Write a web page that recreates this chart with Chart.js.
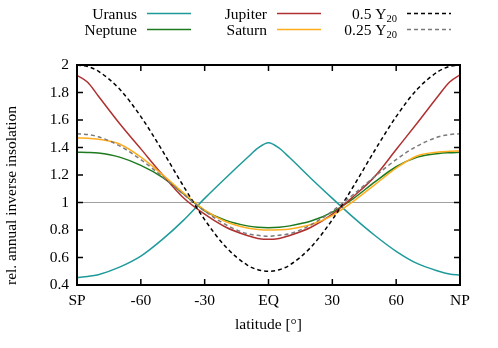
<!DOCTYPE html>
<html>
<head>
<meta charset="utf-8">
<script src="https://cdn.jsdelivr.net/npm/chart.js@4.4.0/dist/chart.umd.min.js"></script>
<style>
  html, body { margin: 0; padding: 0; background: #fff; }
  #wrap { width: 498px; height: 348px; }
</style>
</head>
<body>
<div id="wrap"><canvas id="insolation" width="498" height="348"></canvas></div>
<script>
//Latitudes in degrees, south pole to north pole
const latitudes = [-90, -85, -80, -70, -60, -50, -40, -30, -20, -10, -5, 0, 5, 10, 20, 30, 40, 50, 60, 70, 80, 85, 90];

//Relative annual inverse insolation
const uranus  = [0.455, 0.462, 0.475, 0.53, 0.61, 0.73, 0.87, 1.03, 1.18, 1.325, 1.395, 1.435, 1.395, 1.325, 1.175, 1.03, 0.89, 0.76, 0.645, 0.555, 0.5, 0.48, 0.472];
const neptune = [1.365, 1.364, 1.36, 1.33, 1.27, 1.185, 1.065, 0.94, 0.87, 0.83, 0.82, 0.817, 0.82, 0.83, 0.865, 0.93, 1.03, 1.15, 1.26, 1.33, 1.357, 1.362, 1.365];
const jupiter = [1.925, 1.875, 1.775, 1.575, 1.39, 1.205, 1.035, 0.915, 0.82, 0.76, 0.739, 0.732, 0.739, 0.76, 0.82, 0.915, 1.045, 1.19, 1.385, 1.58, 1.78, 1.875, 1.928];
const saturn  = [1.47, 1.468, 1.46, 1.425, 1.33, 1.205, 1.07, 0.945, 0.86, 0.815, 0.804, 0.8, 0.802, 0.808, 0.84, 0.905, 1.01, 1.13, 1.25, 1.34, 1.367, 1.372, 1.375];
const halfY20 = [2.0, 1.989, 1.955, 1.825, 1.625, 1.38, 1.12, 0.875, 0.676, 0.545, 0.511, 0.5, 0.511, 0.545, 0.676, 0.875, 1.12, 1.38, 1.625, 1.825, 1.955, 1.989, 2.0];
const quarterY20 = [1.5, 1.494, 1.478, 1.412, 1.312, 1.19, 1.06, 0.938, 0.838, 0.773, 0.761, 0.755, 0.761, 0.773, 0.838, 0.938, 1.06, 1.19, 1.312, 1.412, 1.478, 1.494, 1.5];

//Legend names ("_" marks a subscript) and x tick names
const seriesNames = ["Uranus", "Neptune", "Jupiter", "Saturn", "0.5 Y_20", "0.25 Y_20"];
const xTickNames = { "-90": "SP", "0": "EQ", "90": "NP" };

const FONT = "'Liberation Serif', 'Times New Roman', serif";

function toPoints(values) {
  return latitudes.map((lat, i) => ({ x: lat, y: values[i] }));
}

//Gnuplot style key at the top: text right aligned, line sample after it
const keyPlugin = {
  id: "gnuplotKey",
  afterDraw(chart) {
    const ctx = chart.ctx;
    chart.data.datasets.forEach((ds, i) => {
      const col = Math.floor(i / 2);
      const row = i % 2;
      const right = 137 + col * 130;
      const lineY = 13.5 + row * 16;
      const parts = ds.label.split("_");
      ctx.save();
      ctx.fillStyle = "#000";
      ctx.textAlign = "right";
      ctx.textBaseline = "alphabetic";
      let x = right;
      if (parts[1]) {
        ctx.font = "10.5px " + FONT;
        ctx.fillText(parts[1], x, lineY + 8.5);
        x -= ctx.measureText(parts[1]).width;
      }
      ctx.font = "15.5px " + FONT;
      ctx.fillText(parts[0], x, lineY + 5);
      ctx.strokeStyle = ds.borderColor;
      ctx.lineWidth = ds.borderWidth;
      ctx.setLineDash(ds.borderDash || []);
      ctx.beginPath();
      ctx.moveTo(right + 10, lineY);
      ctx.lineTo(right + 54, lineY);
      ctx.stroke();
      ctx.restore();
    });
  }
};

//Border with inward ticks on all four sides
const framePlugin = {
  id: "frame",
  afterDatasetsDraw(chart) {
    const ctx = chart.ctx;
    const a = chart.chartArea;
    const xs = chart.scales.x;
    const ys = chart.scales.y;
    ctx.save();
    ctx.strokeStyle = "#000";
    ctx.lineWidth = 1.5;
    ctx.beginPath();
    xs.ticks.forEach((t) => {
      const px = xs.getPixelForValue(t.value);
      ctx.moveTo(px, a.bottom);
      ctx.lineTo(px, a.bottom - 6);
      ctx.moveTo(px, a.top);
      ctx.lineTo(px, a.top + 6);
    });
    ys.ticks.forEach((t) => {
      const py = ys.getPixelForValue(t.value);
      ctx.moveTo(a.left, py);
      ctx.lineTo(a.left + 6, py);
      ctx.moveTo(a.right, py);
      ctx.lineTo(a.right - 6, py);
    });
    ctx.stroke();
    ctx.lineWidth = 2;
    ctx.strokeRect(a.left, a.top, a.right - a.left, a.bottom - a.top);
    ctx.restore();
  }
};

const colors = ["#1f9a9a", "#1e7a1e", "#b03030", "#ffad1f", "#000000", "#7a7a7a"];
const seriesValues = [uranus, neptune, jupiter, saturn, halfY20, quarterY20];

const datasets = seriesValues.map((values, i) => ({
  label: seriesNames[i],
  data: toPoints(values),
  borderColor: colors[i],
  borderWidth: 1.5,
  borderDash: i >= 4 ? [4, 3] : [],
  pointRadius: 0,
  fill: false,
  cubicInterpolationMode: "monotone",
  order: 6 - i,
}));

Chart.defaults.color = "#000";
Chart.defaults.font.family = FONT;
Chart.defaults.font.size = 15.5;

new Chart(document.getElementById("insolation"), {
  type: "line",
  data: { datasets },
  options: {
    responsive: false,
    animation: false,
    devicePixelRatio: 1,
    layout: { padding: { top: 65, right: 38, left: 0, bottom: 0 } },
    plugins: { legend: { display: false }, tooltip: { enabled: false } },
    scales: {
      x: {
        type: "linear",
        min: -90,
        max: 90,
        border: { display: false },
        grid: { display: false, drawTicks: false },
        ticks: {
          stepSize: 30,
          padding: 7,
          maxRotation: 0,
          callback: (v) => xTickNames[String(v)] || String(v),
        },
        title: { display: true, text: "latitude [°]", padding: { top: 0, bottom: 14 } },
        afterFit: (s) => { s.height = 63; },
      },
      y: {
        min: 0.4,
        max: 2,
        border: { display: false },
        grid: {
          drawTicks: false,
          color: (c) => (c.tick && Math.abs(c.tick.value - 1) < 1e-6 ? "#a0a0a0" : "rgba(0,0,0,0)"),
          lineWidth: 1,
        },
        ticks: {
          stepSize: 0.2,
          padding: 8,
          callback: (v) => String(+v.toFixed(1)),
        },
        title: { display: true, text: "rel. annual inverse insolation", align: "start", padding: { top: 3, bottom: 0 } },
        afterFit: (s) => { s.width = 77; },
      },
    },
  },
  plugins: [framePlugin, keyPlugin],
});
</script>
</body>
</html>
